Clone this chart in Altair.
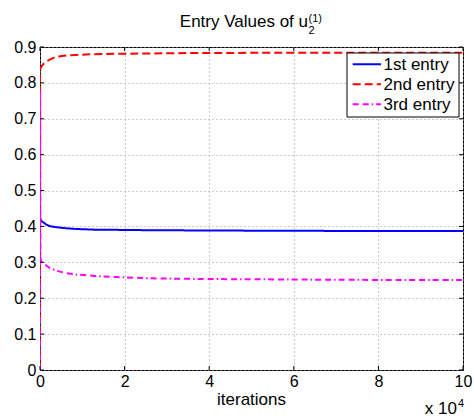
import altair as alt
import pandas as pd

# Iteration counts (in units of 10^4) and the three entry traces
iterations = [0, 0.002, 0.01, 0.03, 0.06, 0.14, 0.22, 0.38, 0.61, 0.85,
              1.3, 1.8, 2.6, 3.5, 4.5, 5.5, 6.1, 7, 8, 9, 10]
entry1 = [0.445, 0.43, 0.42, 0.416, 0.413, 0.406, 0.401, 0.398, 0.395, 0.393,
          0.391, 0.3905, 0.3895, 0.389, 0.3885, 0.388, 0.388, 0.3875, 0.387, 0.387, 0.387]
entry2 = [0.0, 0.836, 0.840, 0.845, 0.850, 0.859, 0.864, 0.873, 0.876, 0.878,
          0.880, 0.881, 0.882, 0.883, 0.8835, 0.884, 0.884, 0.884, 0.884, 0.884, 0.884]
entry3 = [0.0, 0.78, 0.31, 0.303, 0.300, 0.292, 0.285, 0.277, 0.270, 0.266,
          0.262, 0.259, 0.2555, 0.254, 0.253, 0.2525, 0.252, 0.2515, 0.251, 0.251, 0.251]

series_names = ["1st entry", "2nd entry", "3rd entry"]
series_colors = ["#0000ff", "#ff0000", "#ff00ff"]
series_dashes = [[1, 0], [8, 4], [6, 4, 6, 3, 1.5, 3]]

x_ticks = [0, 2, 4, 6, 8, 10]
y_ticks = [0, 0.1, 0.2, 0.3, 0.4, 0.5, 0.6, 0.7, 0.8, 0.9]

FONT = "Liberation Sans"
W, H = 423, 323

rows = []
for name, vals in zip(series_names, [entry1, entry2, entry3]):
    for it, v in zip(iterations, vals):
        rows.append({"iteration": it, "value": v, "series": name})
df = pd.DataFrame(rows)

x_scale = alt.Scale(domain=[0, 10], nice=False, zero=False)
y_scale = alt.Scale(domain=[0, 0.9], nice=False, zero=False)
x_axis = alt.Axis(values=x_ticks, format="d", title=None)
y_axis = alt.Axis(values=y_ticks, format=".1~f", title=None)

lines = alt.Chart(df).mark_line(strokeWidth=2, clip=True).encode(
    x=alt.X("iteration:Q", scale=x_scale, axis=x_axis),
    y=alt.Y("value:Q", scale=y_scale, axis=y_axis),
    color=alt.Color("series:N", scale=alt.Scale(domain=series_names, range=series_colors), legend=None),
    strokeDash=alt.StrokeDash("series:N", scale=alt.Scale(domain=series_names, range=series_dashes), legend=None),
)

# Inward tick marks on all four sides of the frame
xt = pd.DataFrame({"t": x_ticks})
yt = pd.DataFrame({"t": y_ticks})
tick_len = 4
xenc = alt.X("t:Q", scale=x_scale, axis=x_axis)
yenc = alt.Y("t:Q", scale=y_scale, axis=y_axis)
ticks = [
    alt.Chart(xt).mark_rule(color="black").encode(x=xenc, y=alt.value(H), y2=alt.value(H - tick_len)),
    alt.Chart(xt).mark_rule(color="black").encode(x=xenc, y=alt.value(0), y2=alt.value(tick_len)),
    alt.Chart(yt).mark_rule(color="black").encode(y=yenc, x=alt.value(0), x2=alt.value(tick_len)),
    alt.Chart(yt).mark_rule(color="black").encode(y=yenc, x=alt.value(W), x2=alt.value(W - tick_len)),
]

one = pd.DataFrame({"a": [0]})

def label(text, x, y, size, align="left", baseline="alphabetic"):
    return alt.Chart(one).mark_text(text=text, font=FONT, fontSize=size, color="black",
                                    align=align, baseline=baseline).encode(
        x=alt.value(x), y=alt.value(y))

# Title with subscript/superscript pieces
title_layers = [
    label("Entry Values of u", 268, -20, 17, align="right"),
    label("2", 268.5, -13, 11),
    label("(1)", 268.5, -25, 11),
]

xlabel = label("iterations", W / 2, 358, 17, align="center")
xscale_note = [
    label("x 10", 417, 367, 17, align="right"),
    label("4", 418, 360, 11),
]

# Legend box with line samples
legend_layers = [
    alt.Chart(one).mark_rect(fill="white", stroke="black", strokeWidth=1).encode(
        x=alt.value(307), x2=alt.value(419), y=alt.value(6), y2=alt.value(70))
]
for i, (name, col, dash) in enumerate(zip(series_names, series_colors, series_dashes)):
    yy = 17.3 + 20 * i
    legend_layers.append(
        alt.Chart(one).mark_rule(color=col, strokeDash=dash, strokeWidth=2).encode(
            x=alt.value(312.7), x2=alt.value(341), y=alt.value(yy)))
    legend_layers.append(label(name, 343.5, yy + 1, 17, baseline="middle"))

chart = alt.layer(
    lines, *ticks, *title_layers, xlabel, *xscale_note, *legend_layers
).properties(
    width=W, height=H,
    autosize=alt.AutoSizeParams(type="none"),
    padding={"left": 40, "top": 47, "right": 474 - 40 - W, "bottom": 420 - 47 - H},
).configure_view(
    stroke="black", strokeWidth=1
).configure_axis(
    domain=False, ticks=False, grid=True, gridColor="#999999", gridDash=[1, 3],
    gridWidth=1, labelFont=FONT, labelFontSize=16, labelColor="black",
    labelFlush=False, labelPadding=4, labelOverlap=False,
).configure_axisX(labelPadding=3)

chart.save("out.html", embed_options={"renderer": "svg", "actions": False})
